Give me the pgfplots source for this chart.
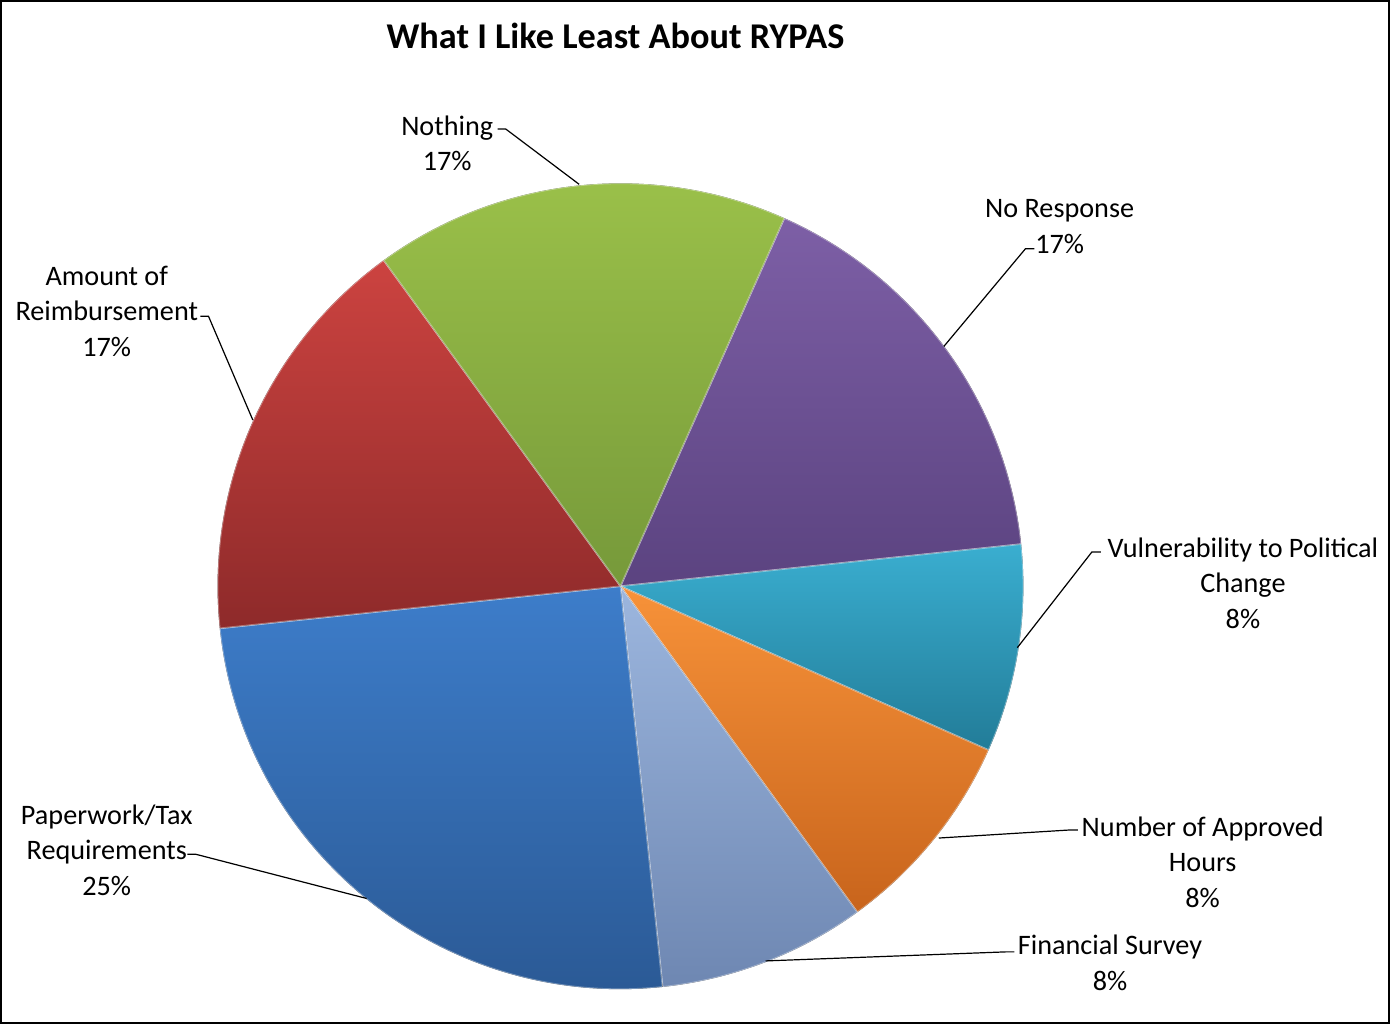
\documentclass[border=0pt]{standalone}
\usepackage{pgfplots}
\pgfplotsset{compat=1.18}
\usepackage{pgfplotstable}
\usepackage{fontspec}
\setmainfont{Carlito}

% slice colours: top / bottom of the gradient
\definecolor{top0}{HTML}{7D5FA6}\definecolor{bot0}{HTML}{5B4380}
\definecolor{top1}{HTML}{3AAED0}\definecolor{bot1}{HTML}{227C98}
\definecolor{top2}{HTML}{F79239}\definecolor{bot2}{HTML}{C8641C}
\definecolor{top3}{HTML}{9CB6DE}\definecolor{bot3}{HTML}{6E87B2}
\definecolor{top4}{HTML}{3D7DCA}\definecolor{bot4}{HTML}{2A5893}
\definecolor{top5}{HTML}{CC4340}\definecolor{bot5}{HTML}{8E2A2A}
\definecolor{top6}{HTML}{9CC24A}\definecolor{bot6}{HTML}{76993A}

% responses, clockwise from the top-right
\pgfplotstableread[col sep=comma]{
slice,count
No Response,2
Vulnerability to Political Change,1
Number of Approved Hours,1
Financial Survey,1
Paperwork/Tax Requirements,3
Amount of Reimbursement,2
Nothing,2
}\piedata

\begin{document}
\begin{tikzpicture}
% angles of each slice from the counts
\pgfplotstablegetrowsof{\piedata}
\pgfmathtruncatemacro\nrows{\pgfplotsretval-1}
\xdef\total{0}
\foreach \i in {0,...,\nrows}{%
  \pgfplotstablegetelem{\i}{count}\of\piedata
  \pgfmathsetmacro\tmp{\total+\pgfplotsretval}\xdef\total{\tmp}}
\xdef\curang{66}
\foreach \i in {0,...,\nrows}{%
  \pgfplotstablegetelem{\i}{count}\of\piedata
  \pgfmathsetmacro\nxt{\curang-360*\pgfplotsretval/\total}%
  \expandafter\xdef\csname sa\i\endcsname{\curang}%
  \expandafter\xdef\csname ea\i\endcsname{\nxt}%
  \xdef\curang{\nxt}}

\begin{axis}[
    width=695pt, height=512pt, scale only axis,
    xmin=0, xmax=1390, ymin=0, ymax=1024, y dir=reverse,
    hide axis, clip=false,
  ]
  \draw[line width=1pt] (axis cs:7,6) rectangle (axis cs:1385,1021);

  \pgfplotsinvokeforeach{0,...,6}{
    \fill[top color=top#1, bottom color=bot#1]
      (axis cs:622,587) -- ++(\csname sa#1\endcsname:200pt)
      arc[start angle=\csname sa#1\endcsname, end angle=\csname ea#1\endcsname, radius=200pt] -- cycle;
    \draw[white, opacity=0.35, line width=0.8pt]
      (axis cs:622,587) -- ++(\csname sa#1\endcsname:200pt)
      arc[start angle=\csname sa#1\endcsname, end angle=\csname ea#1\endcsname, radius=200pt] -- cycle;
  }

  \node[font=\fontsize{18}{21}\selectfont\bfseries] at (axis cs:617,41) {What I Like Least About RYPAS};

  \begin{scope}[every node/.style={font=\fontsize{14}{17.5}\selectfont, align=center}]
    \node at (axis cs:450,147) {Nothing\\17\%};
    \node at (axis cs:1058,230) {No Response\\17\%};
    \node at (axis cs:112,314) {Amount of\\Reimbursement\\17\%};
    \node at (axis cs:1240,584) {Vulnerability to Political\\Change\\8\%};
    \node at (axis cs:1200,861) {Number of Approved\\Hours\\8\%};
    \node at (axis cs:1108,961) {Financial Survey\\8\%};
    \node at (axis cs:112,849) {Paperwork/Tax\\Requirements\\25\%};
  \end{scope}

  \begin{scope}[line width=0.6pt]
    \draw (axis cs:500,133) -- (axis cs:508,133) -- (axis cs:581,188);
    \draw (axis cs:1033,252) -- (axis cs:1024,252) -- (axis cs:943,349);
    \draw (axis cs:205,319) -- (axis cs:213,319) -- (axis cs:257,422);
    \draw (axis cs:1099,553) -- (axis cs:1090,553) -- (axis cs:1016,648);
    \draw (axis cs:1076,829) -- (axis cs:1068,829) -- (axis cs:938,837);
    \draw (axis cs:1013,950) -- (axis cs:1005,950) -- (axis cs:766,959);
    \draw (axis cs:192,853) -- (axis cs:200,853) -- (axis cs:370,897);
  \end{scope}
\end{axis}
\end{tikzpicture}
\end{document}
